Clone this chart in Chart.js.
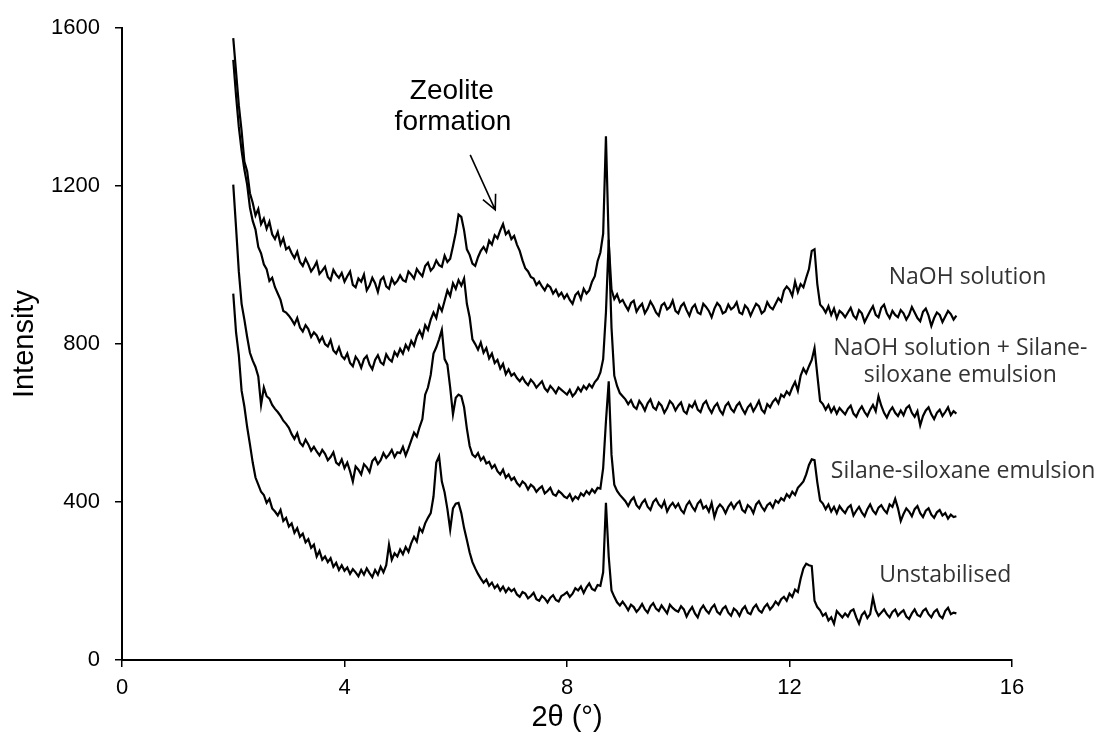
<!DOCTYPE html>
<html>
<head>
<meta charset="utf-8">
<script src="https://cdn.jsdelivr.net/npm/chart.js@4/dist/chart.umd.min.js"></script>
<style>
  html, body { margin: 0; padding: 0; background: #fff; }
</style>
</head>
<body>
<canvas id="xrdChart" width="1104" height="744"></canvas>
<script>
// 2-theta sampling grid: 2.00 to 15.00 deg, step 0.05
var thetaStart = 2.0;
var thetaStep = 0.05;

// Intensities, one row per degree
var naohSolution = [
    1575, 1490, 1405, 1340, 1262, 1238, 1182, 1158, 1126, 1142, 1104, 1118, 1092, 1110, 1078, 1066, 1084, 1052, 1068, 1040,
    1046, 1030, 1018, 1034, 1008, 998, 1016, 1002, 984, 994, 1008, 978, 986, 996, 970, 962, 988, 976, 968, 980,
    958, 972, 984, 950, 944, 966, 958, 976, 936, 948, 968, 954, 932, 962, 970, 946, 940, 966, 952, 960,
    974, 962, 958, 984, 976, 966, 990, 980, 972, 998, 1006, 986, 994, 1012, 1000, 996, 1024, 1008, 1016, 1048,
    1082, 1128, 1122, 1088, 1040, 1026, 1004, 998, 1020, 1036, 1046, 1034, 1062, 1052, 1076, 1068, 1088, 1104, 1078, 1086,
    1066, 1074, 1052, 1036, 1012, 992, 984, 970, 966, 950, 958, 946, 936, 950, 944, 928, 938, 922, 930, 916,
    926, 912, 902, 924, 932, 914, 940, 928, 936, 958, 972, 1010, 1032, 1080, 1326, 1058, 938, 914, 926, 906,
    912, 898, 886, 904, 910, 882, 894, 902, 878, 890, 908, 896, 880, 872, 898, 904, 888, 894, 910, 884,
    878, 896, 904, 886, 872, 892, 900, 880, 876, 902, 894, 884, 868, 890, 904, 896, 878, 882, 900, 888,
    894, 906, 880, 876, 898, 890, 872, 888, 902, 896, 878, 884, 906, 894, 888, 902, 916, 908, 936, 946,
    938, 922, 958, 932, 952, 944, 968, 990, 1036, 1040, 952, 900, 892, 880, 896, 874, 890, 866, 884, 878,
    868, 880, 892, 872, 864, 886, 878, 856, 870, 884, 896, 874, 868, 892, 900, 878, 866, 884, 874, 868,
    886, 878, 862, 874, 894, 880, 866, 858, 882, 890, 872, 846, 866, 880, 874, 856, 870, 884, 876, 862,
    872
];

var naohSilane = [
    1520, 1430, 1350, 1290, 1242, 1204, 1146, 1112, 1090, 1046, 1030, 1002, 990, 960, 968, 944, 928, 912, 884, 880,
    872, 862, 850, 866, 842, 832, 848, 838, 818, 830, 822, 806, 818, 800, 794, 810, 784, 776, 792, 770,
    762, 776, 752, 744, 768, 758, 740, 762, 770, 748, 736, 760, 772, 754, 748, 774, 762, 756, 780, 770,
    788, 776, 798, 786, 808, 796, 820, 834, 818, 848, 836, 862, 880, 866, 898, 884, 910, 936, 922, 954,
    940, 962, 948, 966, 902, 868, 812, 800, 786, 804, 778, 790, 764, 776, 752, 760, 738, 750, 724, 736,
    720, 726, 714, 706, 716, 704, 696, 710, 702, 690, 698, 706, 688, 680, 694, 686, 676, 690, 684, 678,
    672, 684, 668, 676, 690, 680, 694, 686, 698, 690, 704, 712, 728, 762, 880, 1064, 842, 720, 694, 676,
    668, 660, 648, 658, 642, 636, 656, 646, 632, 650, 660, 640, 634, 652, 644, 626, 638, 656, 648, 632,
    644, 652, 630, 624, 646, 640, 654, 634, 628, 648, 656, 638, 626, 642, 650, 632, 622, 644, 652, 636,
    628, 644, 652, 636, 624, 640, 648, 630, 642, 656, 634, 626, 648, 640, 654, 662, 650, 672, 666, 680,
    672, 690, 704, 682, 720, 738, 726, 744, 760, 790, 722, 656, 648, 634, 646, 628, 640, 624, 638, 630,
    622, 636, 644, 624, 616, 632, 642, 628, 618, 634, 646, 630, 668, 644, 626, 614, 630, 640, 626, 618,
    632, 620, 638, 644, 626, 616, 630, 594, 618, 632, 640, 622, 610, 626, 634, 618, 628, 640, 620, 630,
    624
];

var silaneSiloxane = [
    1204, 1096, 984, 902, 862, 818, 778, 758, 742, 718, 646, 690, 668, 662, 646, 636, 628, 618, 606, 598,
    588, 572, 560, 574, 550, 542, 558, 546, 530, 540, 528, 518, 532, 522, 506, 514, 526, 500, 494, 508,
    486, 500, 478, 452, 490, 482, 470, 496, 488, 476, 504, 512, 496, 506, 524, 512, 520, 532, 514, 526,
    524, 540, 518, 536, 556, 576, 566, 590, 610, 672, 690, 722, 776, 792, 812, 836, 762, 748, 690, 622,
    664, 672, 668, 640, 586, 542, 520, 514, 524, 506, 514, 498, 502, 486, 494, 478, 470, 482, 462, 470,
    456, 462, 448, 440, 452, 446, 432, 444, 438, 426, 434, 440, 422, 428, 436, 420, 416, 428, 422, 414,
    410, 420, 404, 414, 408, 422, 416, 428, 420, 432, 424, 436, 434, 486, 604, 706, 520, 444, 428, 418,
    410, 402, 390, 404, 412, 392, 384, 398, 406, 388, 380, 400, 408, 394, 386, 402, 376, 390, 398, 386,
    396, 380, 372, 392, 402, 388, 378, 396, 404, 384, 390, 376, 398, 362, 384, 394, 386, 372, 388, 398,
    384, 396, 402, 380, 374, 392, 386, 372, 394, 402, 388, 378, 392, 398, 386, 404, 398, 410, 404, 420,
    412, 426, 418, 436, 444, 452, 470, 494, 508, 506, 450, 404, 396, 382, 394, 376, 388, 372, 390, 380,
    372, 386, 392, 366, 378, 388, 374, 364, 382, 394, 378, 370, 386, 392, 380, 372, 394, 388, 408, 384,
    352, 370, 384, 376, 364, 382, 390, 372, 362, 378, 384, 368, 360, 374, 380, 366, 372, 358, 368, 362,
    364
];

var unstabilised = [
    928, 830, 772, 682, 642, 590, 546, 500, 462, 444, 426, 418, 398, 408, 384, 376, 366, 380, 352, 360,
    338, 346, 322, 334, 312, 320, 298, 306, 284, 292, 262, 276, 254, 262, 248, 258, 236, 246, 228, 240,
    226, 234, 218, 230, 222, 212, 228, 216, 232, 220, 210, 228, 216, 236, 222, 240, 292, 254, 270, 262,
    280, 268, 286, 274, 296, 312, 300, 334, 324, 346, 360, 372, 414, 500, 516, 452, 424, 382, 330, 384,
    396, 398, 372, 334, 304, 272, 248, 232, 218, 206, 196, 204, 188, 196, 182, 190, 176, 186, 172, 182,
    174, 180, 166, 160, 172, 168, 156, 162, 170, 154, 150, 162, 156, 146, 158, 164, 152, 148, 162, 166,
    172, 160, 168, 182, 176, 186, 170, 184, 194, 180, 176, 190, 188, 222, 398, 262, 176, 160, 146, 138,
    148, 138, 126, 140, 134, 122, 130, 142, 128, 120, 136, 144, 130, 124, 138, 128, 118, 140, 132, 126,
    122, 136, 128, 110, 124, 134, 118, 108, 128, 138, 126, 118, 132, 140, 122, 116, 130, 136, 120, 112,
    130, 124, 112, 128, 136, 120, 116, 132, 140, 126, 120, 134, 142, 128, 136, 148, 140, 154, 160, 150,
    168, 160, 178, 172, 206, 232, 244, 240, 238, 150, 134, 126, 112, 118, 100, 108, 92, 124, 116, 108,
    118, 110, 124, 128, 108, 92, 114, 122, 106, 116, 158, 126, 112, 120, 128, 116, 108, 122, 128, 112,
    120, 126, 110, 104, 118, 128, 114, 110, 124, 130, 116, 108, 122, 128, 112, 106, 124, 132, 116, 120,
    118
];

var xTicks = [0, 4, 8, 12, 16];
var yTicks = [0, 400, 800, 1200, 1600];

// curve labels, placed in data units
var curveLabels = [
    { lines: ["NaOH solution"], x: 15.2, y: 968 },
    { lines: ["NaOH solution + Silane-", "siloxane emulsion"], x: 15.07, y: 788 },
    { lines: ["Silane-siloxane emulsion"], x: 15.12, y: 478 },
    { lines: ["Unstabilised"], x: 14.8, y: 215 }
];

function toPoints(values) {
    return values.map(function (v, i) {
        return { x: +(thetaStart + i * thetaStep).toFixed(2), y: v };
    });
}

function series(label, values) {
    return {
        label: label,
        data: toPoints(values),
        borderColor: "#000",
        borderWidth: 2.2,
        pointRadius: 0,
        tension: 0,
        fill: false
    };
}

var annotations = {
    id: "annotations",
    afterDatasetsDraw: function (chart) {
        var ctx = chart.ctx;
        var xs = chart.scales.x, ys = chart.scales.y;
        ctx.save();

        // curve labels
        ctx.fillStyle = "#333";
        ctx.font = "23px 'Open Sans'";
        ctx.textAlign = "center";
        ctx.textBaseline = "middle";
        curveLabels.forEach(function (lab) {
            var px = xs.getPixelForValue(lab.x);
            var py = ys.getPixelForValue(lab.y);
            lab.lines.forEach(function (t, k) {
                ctx.fillText(t, px, py + k * 27);
            });
        });

        // zeolite note + arrow
        ctx.fillStyle = "#000";
        ctx.font = "28px 'Liberation Sans', Arial";
        ctx.fillText("Zeolite", xs.getPixelForValue(5.93), ys.getPixelForValue(1440));
        ctx.fillText("formation", xs.getPixelForValue(5.95), ys.getPixelForValue(1362));

        var x0 = xs.getPixelForValue(6.26), y0 = ys.getPixelForValue(1279);
        var x1 = xs.getPixelForValue(6.71), y1 = ys.getPixelForValue(1140);
        var ang = Math.atan2(y1 - y0, x1 - x0);
        ctx.strokeStyle = "#000";
        ctx.lineWidth = 1.6;
        ctx.beginPath();
        ctx.moveTo(x0, y0);
        ctx.lineTo(x1, y1);
        ctx.moveTo(x1 - 16 * Math.cos(ang - 0.45), y1 - 16 * Math.sin(ang - 0.45));
        ctx.lineTo(x1, y1);
        ctx.lineTo(x1 - 16 * Math.cos(ang + 0.45), y1 - 16 * Math.sin(ang + 0.45));
        ctx.stroke();
        ctx.restore();
    }
};

var axisFont = { family: "'Liberation Sans', Arial", size: 22 };
var titleFont = { family: "'Liberation Sans', Arial", size: 29 };

var ctx = document.getElementById("xrdChart").getContext("2d");
var xrdChart = new Chart(ctx, {
    type: "line",
    data: {
        datasets: [
            series("NaOH solution", naohSolution),
            series("NaOH solution + Silane-siloxane emulsion", naohSilane),
            series("Silane-siloxane emulsion", silaneSiloxane),
            series("Unstabilised", unstabilised)
        ]
    },
    options: {
        responsive: false,
        animation: false,
        devicePixelRatio: 1,
        layout: { padding: { top: 22, right: 92, left: 0, bottom: 0 } },
        plugins: {
            legend: { display: false },
            tooltip: { enabled: false }
        },
        scales: {
            x: {
                type: "linear",
                min: 0,
                max: 16,
                afterBuildTicks: function (scale) {
                    scale.ticks = xTicks.map(function (v) { return { value: v }; });
                },
                afterFit: function (scale) { scale.height = 84; },
                ticks: {
                    font: axisFont, color: "#000", padding: 8, maxRotation: 0,
                    callback: function (v) { return String(v); }
                },
                grid: { drawOnChartArea: false, tickLength: 7, color: "#000", lineWidth: 1.5 },
                border: { color: "#000", width: 2 },
                title: {
                    display: true,
                    text: "2θ (°)",
                    font: titleFont,
                    color: "#000",
                    padding: { top: 0, bottom: 9 }
                }
            },
            y: {
                min: 0,
                max: 1600,
                afterBuildTicks: function (scale) {
                    scale.ticks = yTicks.map(function (v) { return { value: v }; });
                },
                afterFit: function (scale) { scale.width = 122; },
                ticks: {
                    font: axisFont, color: "#000", padding: 15,
                    callback: function (v) { return String(v); }
                },
                grid: { drawOnChartArea: false, tickLength: 7, color: "#000", lineWidth: 1.5 },
                border: { color: "#000", width: 2 },
                title: {
                    display: true,
                    text: "Intensity",
                    font: titleFont,
                    color: "#000",
                    padding: { top: 8, bottom: 0 }
                }
            }
        }
    },
    plugins: [annotations]
});
</script>
</body>
</html>
